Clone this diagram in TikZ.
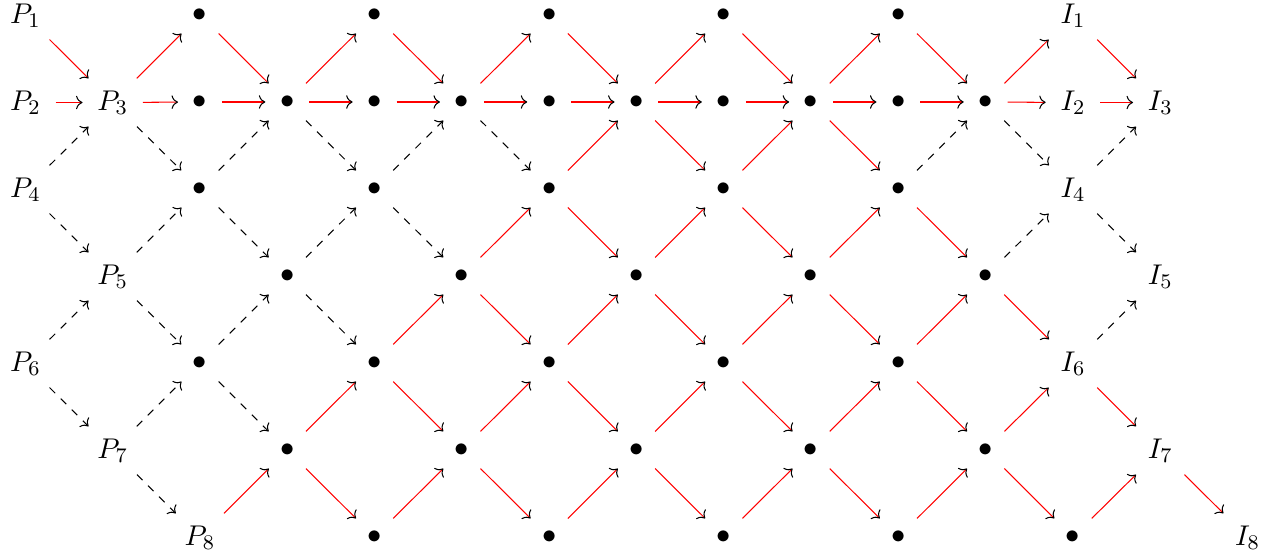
\documentclass[11pt,tikz,border=0pt]{standalone}
\usetikzlibrary{arrows.meta}
\begin{document}
\begin{tikzpicture}[x=0.384pt,y=-0.384pt,
  cell/.style={inner xsep=5.5pt, inner ysep=4.5pt},
  redarr/.style={draw=red, -{Computer Modern Rightarrow[color=black]}},
  dasharr/.style={draw=black, dashed, -{Computer Modern Rightarrow}}]
\useasboundingbox (0,0) rectangle (1281,558);
% labels
\foreach \c/\r/\t in {0/0/P_1,0/1/P_2,1/1/P_3,0/2/P_4,1/3/P_5,0/4/P_6,1/5/P_7,2/6/P_8,
  12/0/I_1,12/1/I_2,13/1/I_3,12/2/I_4,13/3/I_5,12/4/I_6,13/5/I_7,14/6/I_8}
  \node[cell] (n-\c-\r) at ({25.4+87.3*\c},{15.5+87*\r}) {$\t$};
% bullets
\foreach \c/\r in {2/0,2/1,2/2,2/4,
  3/1,3/3,3/5, 4/0,4/1,4/2,4/4,4/6, 5/1,5/3,5/5, 6/0,6/1,6/2,6/4,6/6,
  7/1,7/3,7/5, 8/0,8/1,8/2,8/4,8/6, 9/1,9/3,9/5, 10/0,10/1,10/2,10/4,10/6,
  11/1,11/3,11/5, 12/6}
  \node[cell] (n-\c-\r) at ({25.4+87.3*\c},{15+87*\r}) {$\bullet$};
% red arrows
\foreach \a/\b in {0-0/1-1,0-1/1-1,1-1/2-0,1-1/2-1,2-6/3-5,
  2-0/3-1,2-1/3-1,
  3-1/4-0,3-1/4-1,3-5/4-4,3-5/4-6,
  4-0/5-1,4-1/5-1,4-4/5-3,4-4/5-5,4-6/5-5,
  5-1/6-0,5-1/6-1,5-3/6-2,5-3/6-4,5-5/6-4,5-5/6-6,
  6-0/7-1,6-1/7-1,6-2/7-1,6-2/7-3,6-4/7-3,6-4/7-5,6-6/7-5,
  7-1/8-0,7-1/8-1,7-1/8-2,7-3/8-2,7-3/8-4,7-5/8-4,7-5/8-6,
  8-0/9-1,8-1/9-1,8-2/9-1,8-2/9-3,8-4/9-3,8-4/9-5,8-6/9-5,
  9-1/10-0,9-1/10-1,9-1/10-2,9-3/10-2,9-3/10-4,9-5/10-4,9-5/10-6,
  10-0/11-1,10-1/11-1,10-2/11-3,10-4/11-3,10-4/11-5,10-6/11-5,
  11-1/12-0,11-1/12-1,11-3/12-4,11-5/12-4,11-5/12-6,
  12-0/13-1,12-1/13-1,12-4/13-5,12-6/13-5,13-5/14-6}
  \draw[redarr] (n-\a) -- (n-\b);
% dashed arrows
\foreach \a/\b in {0-2/1-1,0-2/1-3,0-4/1-3,0-4/1-5,
  1-1/2-2,1-3/2-2,1-3/2-4,1-5/2-4,1-5/2-6,
  2-2/3-1,2-2/3-3,2-4/3-3,2-4/3-5,
  3-1/4-2,3-3/4-2,3-3/4-4,
  4-2/5-1,4-2/5-3,
  5-1/6-2,
  10-2/11-1,
  11-1/12-2,11-3/12-2,
  12-2/13-1,12-2/13-3,12-4/13-3}
  \draw[dasharr] (n-\a) -- (n-\b);
\end{tikzpicture}
\end{document}
